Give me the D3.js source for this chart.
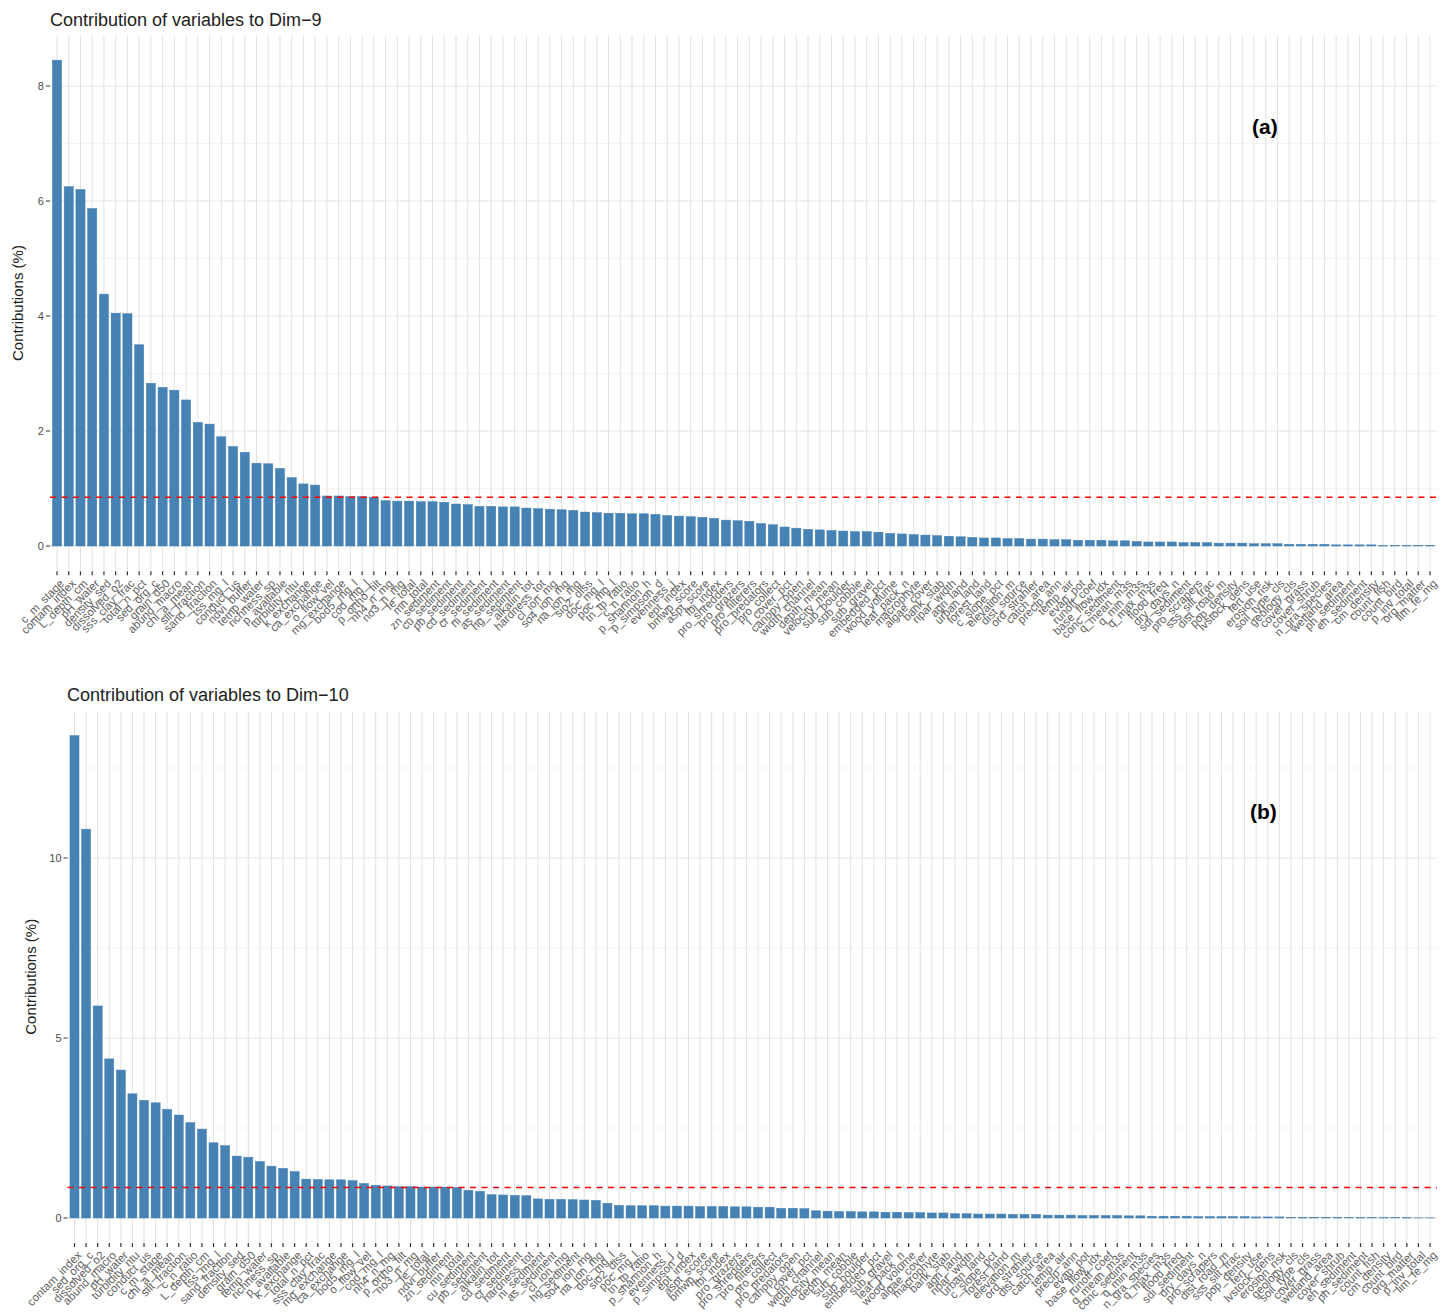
<!DOCTYPE html>
<meta charset="utf-8">
<body style="margin:0;background:#fff">

<svg width="1447" height="1316"></svg>

<script type="text/javascript" src="https://d3js.org/d3.v7.min.js"></script>
<script>

// contributions (%), sorted as in the picture
var dim9Values = [8.45, 6.25, 6.20, 5.87, 4.38, 4.05, 4.04, 3.50, 2.83, 2.76,
  2.71, 2.54, 2.15, 2.12, 1.90, 1.73, 1.63, 1.44, 1.43, 1.35,
  1.19, 1.08, 1.06, 0.87, 0.87, 0.86, 0.86, 0.85, 0.79, 0.78,
  0.78, 0.77, 0.77, 0.76, 0.73, 0.72, 0.69, 0.69, 0.68, 0.68,
  0.66, 0.65, 0.64, 0.63, 0.62, 0.59, 0.58, 0.57, 0.57, 0.56,
  0.56, 0.55, 0.53, 0.52, 0.51, 0.50, 0.48, 0.45, 0.44, 0.43,
  0.39, 0.37, 0.33, 0.31, 0.29, 0.28, 0.27, 0.26, 0.25, 0.25,
  0.24, 0.22, 0.21, 0.20, 0.19, 0.18, 0.17, 0.16, 0.15, 0.14,
  0.14, 0.13, 0.13, 0.12, 0.12, 0.11, 0.11, 0.10, 0.10, 0.10,
  0.09, 0.09, 0.08, 0.07, 0.07, 0.07, 0.06, 0.06, 0.06, 0.05,
  0.05, 0.05, 0.04, 0.04, 0.04, 0.03, 0.03, 0.03, 0.03, 0.02,
  0.02, 0.02, 0.02, 0.01, 0.01, 0.01, 0.01, 0.01];

var dim9Labels = ['c_m_stage', 'contam_index', 'L_depth_cm', 'pH_water', 'density_sed', 'dissolved_o2', 'sss_clay_frac', 'total_n_pct', 'sed_org_c', 'grain_d50',
  'abund_macro', 'chl_a_mean', 'silt_fraction', 'sand_fraction', 'tss_mg_l', 'conduct_us', 'ndvi_buffer', 'temp_water', 'richness_sp', 'p_available',
  'turbidity_ntu', 'k_exchange', 'ca_exchange', 'o_flow_vel', 'mg_exchange', 'bod5_mg_l', 'cod_mg_l', 'p_ortho_filt', 'nh4_n_mg', 'no3_n_mg',
  'fe_total', 'mn_total', 'zn_sediment', 'cu_sediment', 'pb_sediment', 'cd_sediment', 'cr_sediment', 'ni_sediment', 'as_sediment', 'hg_sediment',
  'alkalin_tot', 'hardness_tot', 'cl_ion_mg', 'so4_ion_mg', 'na_ion_mg', 'sio2_diss', 'doc_mg_l', 'poc_mg_l', 'tn_tp_ratio', 'c_n_ratio',
  'p_shannon_h', 'p_simpson_d', 'evenness_j', 'ept_index', 'bmwp_score', 'aspt_score', 'fbi_index', 'pro_shredders', 'pro_grazers', 'pro_filterers',
  'pro_predators', 'pro_collect', 'l_cover_pct', 'canopy_open', 'width_channel', 'depth_mean', 'velocity_mean', 'sub_boulder', 'sub_cobble', 'sub_gravel',
  'embedded_pct', 'wood_volume', 'leaf_pack_n', 'macrophyte', 'algae_cover', 'bank_stab', 'ripar_width', 'agri_land', 'urban_land', 'forest_land',
  'c_slope_pct', 'elevation_m', 'dist_source', 'ord_strahler', 'catch_area', 'precip_ann', 'temp_air', 'evap_pot', 'runoff_coef', 'base_flow_idx',
  'conc_sediment', 'q_mean_m3s', 'q_min_m3s', 'q_max_m3s', 'flood_freq', 'dry_days_n', 'sdi_sediment', 'pro_scrapers', 'sss_silt_frac', 'dist_road_m',
  'pop_density', 'lvstock_dens', 'fert_use', 'erosion_risk', 'soil_type_cls', 'geology_cls', 'cover_grass', 'cover_shrub', 'n_gra_species', 'wetland_area',
  'ph_sediment', 'eh_sediment', 'cm_density', 'count_fish', 'count_bird', 'p_inv_total', 'org_matter', 'lim_fe_mg'];

var dim10Values = [13.4, 10.8, 5.89, 4.42, 4.11, 3.45, 3.27, 3.20, 3.02, 2.86,
  2.65, 2.47, 2.09, 2.01, 1.72, 1.69, 1.57, 1.44, 1.38, 1.29,
  1.08, 1.07, 1.06, 1.06, 1.04, 0.96, 0.91, 0.89, 0.87, 0.87,
  0.86, 0.86, 0.86, 0.85, 0.77, 0.74, 0.65, 0.64, 0.63, 0.62,
  0.53, 0.52, 0.52, 0.51, 0.50, 0.49, 0.41, 0.35, 0.34, 0.34,
  0.34, 0.33, 0.33, 0.33, 0.32, 0.32, 0.32, 0.31, 0.31, 0.30,
  0.30, 0.27, 0.27, 0.26, 0.20, 0.19, 0.18, 0.18, 0.17, 0.17,
  0.16, 0.16, 0.15, 0.15, 0.14, 0.14, 0.12, 0.12, 0.11, 0.11,
  0.11, 0.10, 0.10, 0.10, 0.08, 0.08, 0.08, 0.07, 0.07, 0.07,
  0.07, 0.06, 0.06, 0.05, 0.05, 0.05, 0.05, 0.04, 0.04, 0.04,
  0.04, 0.04, 0.03, 0.03, 0.03, 0.02, 0.02, 0.02, 0.02, 0.02,
  0.01, 0.01, 0.01, 0.01, 0.01, 0.01, 0.005, 0.005];

var dim10Labels = ['contam_index', 'sed_org_c', 'dissolved_o2', 'abund_macro', 'pH_water', 'turbidity_ntu', 'conduct_us', 'c_m_stage', 'chl_a_mean', 'silt_fraction',
  'c_n_ratio', 'L_depth_cm', 'tss_mg_l', 'sand_fraction', 'density_sed', 'grain_d50', 'temp_water', 'richness_sp', 'p_available', 'k_exchange',
  'total_n_pct', 'sss_clay_frac', 'mg_exchange', 'ca_exchange', 'bod5_mg_l', 'o_flow_vel', 'cod_mg_l', 'nh4_n_mg', 'p_ortho_filt', 'no3_n_mg',
  'fe_total', 'ndvi_buffer', 'zn_sediment', 'mn_total', 'cu_sediment', 'pb_sediment', 'alkalin_tot', 'cd_sediment', 'cr_sediment', 'hardness_tot',
  'ni_sediment', 'as_sediment', 'cl_ion_mg', 'hg_sediment', 'so4_ion_mg', 'na_ion_mg', 'doc_mg_l', 'sio2_diss', 'poc_mg_l', 'tn_tp_ratio',
  'p_shannon_h', 'evenness_j', 'p_simpson_d', 'ept_index', 'aspt_score', 'bmwp_score', 'fbi_index', 'pro_grazers', 'pro_shredders', 'pro_filterers',
  'pro_collect', 'pro_predators', 'canopy_open', 'l_cover_pct', 'width_channel', 'velocity_mean', 'depth_mean', 'sub_cobble', 'sub_boulder', 'embedded_pct',
  'sub_gravel', 'leaf_pack_n', 'wood_volume', 'algae_cover', 'macrophyte', 'bank_stab', 'agri_land', 'ripar_width', 'urban_land', 'c_slope_pct',
  'forest_land', 'elevation_m', 'ord_strahler', 'dist_source', 'catch_area', 'temp_air', 'precip_ann', 'evap_pot', 'base_flow_idx', 'runoff_coef',
  'q_mean_m3s', 'conc_sediment', 'q_min_m3s', 'n_gra_species', 'q_max_m3s', 'flood_freq', 'sdi_sediment', 'dry_days_n', 'pro_scrapers', 'dist_road_m',
  'sss_silt_frac', 'pop_density', 'fert_use', 'lvstock_dens', 'erosion_risk', 'geology_cls', 'soil_type_cls', 'cover_grass', 'wetland_area', 'cover_shrub',
  'eh_sediment', 'ph_sediment', 'count_fish', 'cm_density', 'count_bird', 'org_matter', 'p_inv_total', 'lim_fe_mg'];

var dim9Ticks = [0, 2, 4, 6, 8];
var dim10Ticks = [0, 5, 10];

var svg = d3.select('svg');
svg.append('rect').attr('width', 1447).attr('height', 1316).attr('fill', '#fff');

function drawPanel(o) {
  var n = o.values.length;
  var vmax = d3.max(o.values);
  var y = d3.scaleLinear().domain([0, o.refTick]).range([o.zeroY, o.refY]);
  var top = y(vmax * 1.05), bottom = y(-vmax * 0.05);
  var x = d3.scalePoint().domain(d3.range(n)).range([o.firstX, o.lastX]);
  var step = x.step();
  var left = o.firstX - 0.6 * step, right = o.lastX + 0.6 * step;
  var g = svg.append('g');

  // minor horizontal grid (midpoints between ticks)
  var tk = o.ticks, minor = [];
  var dt = tk[1] - tk[0];
  for (var t = tk[0] + dt / 2; t < vmax * 1.05; t += dt) minor.push(t);
  g.selectAll('.minor').data(minor).enter().append('line')
    .attr('x1', left).attr('x2', right)
    .attr('y1', d => y(d)).attr('y2', d => y(d))
    .attr('stroke', '#f2f2f2').attr('stroke-width', 0.8);

  g.selectAll('.hgrid').data(tk).enter().append('line')
    .attr('x1', left).attr('x2', right)
    .attr('y1', d => y(d)).attr('y2', d => y(d))
    .attr('stroke', '#e4e4e4').attr('stroke-width', 1);

  g.selectAll('.vgrid').data(d3.range(n)).enter().append('line')
    .attr('x1', d => x(d)).attr('x2', d => x(d))
    .attr('y1', top).attr('y2', bottom)
    .attr('stroke', '#e1e1e1').attr('stroke-width', 1);

  var bw = step * 0.78;
  g.selectAll('.bar').data(o.values).enter().append('rect')
    .attr('x', (d, i) => x(i) - bw / 2)
    .attr('width', bw)
    .attr('y', d => y(d))
    .attr('height', d => y(0) - y(d))
    .attr('fill', 'steelblue')
    .attr('stroke', 'steelblue').attr('stroke-width', 0.5);

  // expected average contribution, 100 / number of variables
  var ref = 100 / n;
  g.append('line')
    .attr('x1', left).attr('x2', right)
    .attr('y1', y(ref)).attr('y2', y(ref))
    .attr('stroke', 'red').attr('stroke-width', 1.3)
    .attr('stroke-dasharray', '6,5.5');

  // y axis
  g.selectAll('.ytick').data(tk).enter().append('line')
    .attr('x1', left - 4).attr('x2', left)
    .attr('y1', d => y(d)).attr('y2', d => y(d))
    .attr('stroke', '#333').attr('stroke-width', 1);
  g.selectAll('.ylab').data(tk).enter().append('text')
    .attr('x', left - 6).attr('y', d => y(d))
    .attr('dy', '0.35em').attr('text-anchor', 'end')
    .attr('font-family', 'Liberation Sans, Arial, sans-serif')
    .attr('font-size', 11).attr('fill', '#4d4d4d')
    .text(d => d);

  g.append('text')
    .attr('transform', 'translate(' + o.yTitleX + ',' + ((top + bottom) / 2) + ') rotate(-90)')
    .attr('text-anchor', 'middle')
    .attr('font-family', 'Liberation Sans, Arial, sans-serif')
    .attr('font-size', 15).attr('fill', '#222')
    .text('Contributions (%)');

  // x axis ticks and rotated labels
  g.selectAll('.xtick').data(d3.range(n)).enter().append('line')
    .attr('x1', d => x(d)).attr('x2', d => x(d))
    .attr('y1', bottom + 1).attr('y2', bottom + 5)
    .attr('stroke', '#333').attr('stroke-width', 1.2);
  g.selectAll('.xlab').data(o.labels).enter().append('text')
    .attr('transform', (d, i) => 'translate(' + (x(i) + 3) + ',' + (bottom + 9) + ') rotate(-45)')
    .attr('text-anchor', 'end').attr('dy', '0.6em')
    .attr('font-family', 'Liberation Sans, Arial, sans-serif')
    .attr('font-size', 11.5).attr('fill', '#606060')
    .text(d => d);

  // title and panel letter
  g.append('text')
    .attr('x', o.titleX).attr('y', o.titleY)
    .attr('font-family', 'Liberation Sans, Arial, sans-serif')
    .attr('font-size', 18).attr('fill', '#222')
    .text(o.title);
  g.append('text')
    .attr('x', o.tagX).attr('y', o.tagY)
    .attr('font-family', 'Liberation Sans, Arial, sans-serif')
    .attr('font-weight', 'bold')
    .attr('font-size', 21).attr('fill', '#000')
    .text(o.tag);
}

drawPanel({
  values: dim9Values, labels: dim9Labels, ticks: dim9Ticks,
  refTick: 8, zeroY: 546, refY: 86,
  firstX: 57, lastX: 1430, yTitleX: 23,
  title: 'Contribution of variables to Dim\u22129', titleX: 50, titleY: 26,
  tag: '(a)', tagX: 1252, tagY: 134
});

drawPanel({
  values: dim10Values, labels: dim10Labels, ticks: dim10Ticks,
  refTick: 10, zeroY: 1218, refY: 858,
  firstX: 74.5, lastX: 1430, yTitleX: 36,
  title: 'Contribution of variables to Dim\u221210', titleX: 67, titleY: 701,
  tag: '(b)', tagX: 1250, tagY: 819
});

</script>
